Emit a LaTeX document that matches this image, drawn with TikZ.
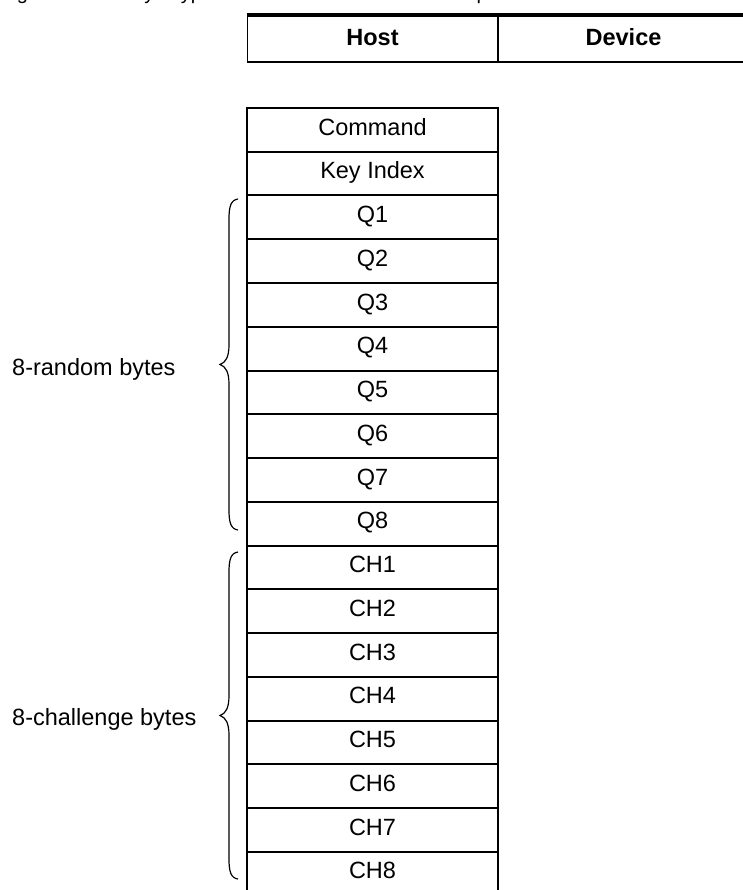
\documentclass[tikz,border=0pt]{standalone}
\usepackage{fontspec}
\setmainfont{Liberation Sans}
\newcommand{\drawbrace}[2]{%
  \pgfmathsetmacro\bT{#1}\pgfmathsetmacro\bB{#2}\pgfmathsetmacro\bM{(#1+#2)/2}%
  \draw[bracepath] (238,\bT) .. controls (231,\bT+1) and (229,\bT+7) .. (229,\bT+20)
    -- (229,\bM-20) .. controls (229,\bM-8) and (226,\bM-2) .. (220,\bM)
    .. controls (226,\bM+2) and (229,\bM+8) .. (229,\bM+20)
    -- (229,\bB-20) .. controls (229,\bB-7) and (231,\bB-1) .. (238,\bB);}
\begin{document}
\begin{tikzpicture}[x=1pt,y=-1pt,
  txt/.style={font=\fontsize{23.5}{28}\selectfont},
  cell/.style={txt, draw, line width=2pt, minimum width=251pt, minimum height=43.75pt,
    inner sep=0pt, outer sep=0pt, anchor=north west, text height=17pt, text depth=6.5pt},
  hdr/.style={font=\fontsize{23.5}{28}\selectfont\bfseries, minimum width=251pt,
    minimum height=47pt, inner sep=0pt, outer sep=0pt, text height=17pt, text depth=2pt},
  bracelabel/.style={txt, anchor=base west, inner sep=0pt},
  bracepath/.style={line width=1.2pt}
]
\useasboundingbox (0,0) rectangle (743,890);
\begin{scope}
\clip (0,0) rectangle (743,890);
% caption, cut off at the top edge as in the reference
\node[anchor=base west, inner sep=0pt, font=\fontsize{20}{24}\selectfont] (title) at (0,0)
  {Figure 5-1. Verify Crypto Command Functional Description};
% header
\node[hdr] (host) at (372.5,38.5) {Host};
\node[hdr] (device) at (623.5,38.5) {Device};
\draw[line width=4pt] (host.north west) -- (device.north east);
\draw[line width=2pt] (host.south west) -- (device.south east);
\draw[line width=1pt] (host.north west) -- (host.south west);
\draw[line width=1.5pt] (host.north east) -- (host.south east);
% stack
\foreach \t [count=\i] in {Command,Key Index,Q1,Q2,Q3,Q4,Q5,Q6,Q7,Q8,CH1,CH2,CH3,CH4,CH5,CH6,CH7,CH8}
  \node[cell] (r\i) at (247,{108+(\i-1)*43.75}) {\t};
% braces
\drawbrace{199}{530}
\drawbrace{552}{879}
\node[bracelabel] (rand) at (12,375) {8-random bytes};
\node[bracelabel] (chal) at (12,725) {8-challenge bytes};
\end{scope}
\end{tikzpicture}
\end{document}
